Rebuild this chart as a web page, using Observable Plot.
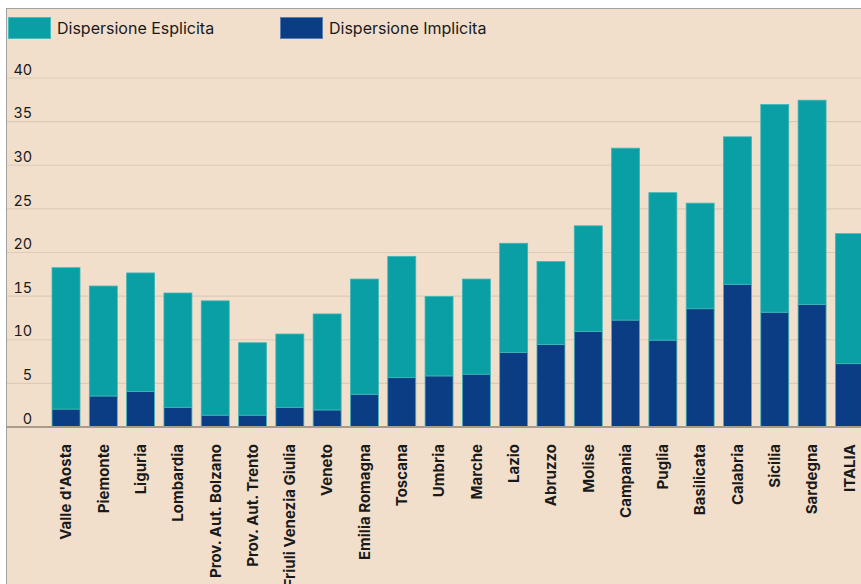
<!DOCTYPE html>
<html><head><meta charset="utf-8">
<script src="https://cdn.jsdelivr.net/npm/d3@7"></script>
<script src="https://cdn.jsdelivr.net/npm/@observablehq/plot@0.6"></script>
<style>
html,body{margin:0;padding:0;background:#fff;overflow:hidden;width:861px;height:584px;}
#frame{position:absolute;left:6px;top:8px;width:900px;height:620px;background:#f1dfcc;border-left:1.5px solid #a0a0a0;border-top:1.5px solid #a0a0a0;}
#wrap{position:absolute;left:0;top:0;width:880px;}
#legend{position:relative;height:50px;font-family:Inter,sans-serif;font-size:16px;color:#1a1a1a;}
.sw{position:absolute;top:17px;width:41px;height:20px;border:1px solid #5cc0c0;}
.lt{position:absolute;top:17px;line-height:22px;}
</style>
</head><body>
<div id="frame"></div>
<div id="wrap">
  <div id="legend">
    <div class="sw" style="left:8px;background:#0a9ea5;border-color:#49bcbc"></div>
    <div class="lt" style="left:57px">Dispersione Esplicita</div>
    <div class="sw" style="left:280px;background:#0b3d84;border-color:#5a7fb0"></div>
    <div class="lt" style="left:329px">Dispersione Implicita</div>
  </div>
  <div id="chart"></div>
</div>
<script>
const regions = ["Valle d'Aosta","Piemonte","Liguria","Lombardia","Prov. Aut. Bolzano","Prov. Aut. Trento","Friuli Venezia Giulia","Veneto","Emilia Romagna","Toscana","Umbria","Marche","Lazio","Abruzzo","Molise","Campania","Puglia","Basilicata","Calabria","Sicilia","Sardegna","ITALIA"];
const implicita = [2.0,3.5,4.0,2.2,1.3,1.3,2.2,1.9,3.7,5.6,5.8,6.0,8.5,9.4,10.9,12.2,9.9,13.5,16.3,13.1,14.0,7.2];
const esplicita = [16.2,12.6,13.6,13.1,13.1,8.3,8.4,11.0,13.2,13.9,9.1,10.9,12.5,9.5,12.1,19.7,16.9,12.1,16.9,23.8,23.4,14.9];
const series = ["Dispersione Implicita","Dispersione Esplicita"];
const colors = ["#0b3d84","#0a9ea5"];
const yTicks = [0,5,10,15,20,25,30,35,40];

const data = [];
regions.forEach((r,i)=>{
  data.push({region:r, serie:series[0], value:implicita[i]});
  data.push({region:r, serie:series[1], value:esplicita[i]});
});

const chart = Plot.plot({
  width: 880,
  height: 534,
  marginLeft: 42.7,
  marginRight: 7.3,
  marginTop: 27.5,
  marginBottom: 157.5,
  style: {background:"transparent", maxWidth:"none", fontFamily:"Inter, sans-serif", color:"#1a1a1a", overflow:"visible"},
  x: {domain: regions, padding: 0.25, round: false, label: null},
  y: {domain: [0,40], label: null},
  color: {domain: series, range: colors},
  marks: [
    Plot.ruleY(yTicks.filter(d=>d>0), {stroke:"#dfcab6", strokeWidth:1.2, insetLeft:-35.7, insetRight:-20}),
    Plot.barY(data, {x:"region", y:"value", fill:"serie", order: series, stroke:"#3fb6b6", strokeWidth:0.8}),
    Plot.ruleY([0], {stroke:"#a89a8c", strokeWidth:2, insetLeft:-35.7, insetRight:-20}),
    Plot.axisY({ticks: yTicks, tickSize:0, tickPadding:11, dy:-8, fontSize:14.5, tickFormat: d=>String(d)}),
    Plot.axisX({tickRotate:-90, tickSize:0, tickPadding:17, fontSize:15, fontWeight:"bold"})
  ]
});
document.getElementById("chart").appendChild(chart);
</script>
</body></html>
